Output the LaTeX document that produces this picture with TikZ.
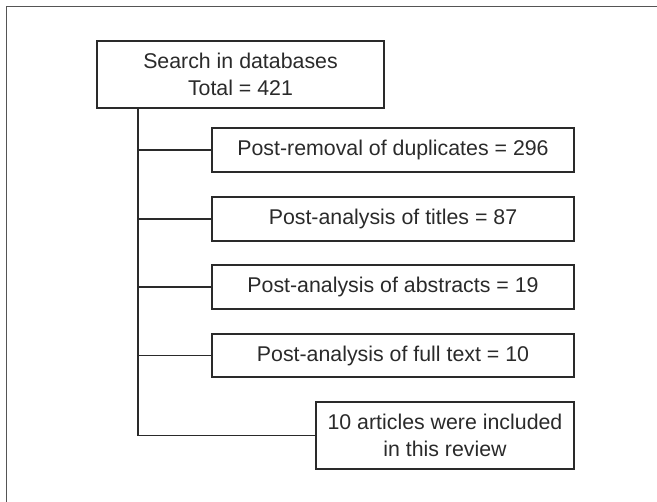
\documentclass[tikz,border=0pt]{standalone}
\usepackage{fontspec}
\setmainfont{Liberation Sans}
\usepackage{xcolor}
\usetikzlibrary{positioning}

\definecolor{inkgray}{HTML}{2A2A2A}

\begin{document}
\begin{tikzpicture}[
x=0.75pt, y=-0.75pt,
box/.style={
    draw=inkgray,
    line width=0.8pt,
    align=center,
    inner sep=0pt,
    text=inkgray,
    font=\fontsize{16}{20}\selectfont
},
link/.style={draw=inkgray, line width=0.8pt}
]
\useasboundingbox (0,0) rectangle (657,502);

% outer frame (only top and left show)
\draw[inkgray!80, line width=1.2pt] (6.5,502) -- (6.5,6.5) -- (657,6.5);

\node[box, minimum width=287*0.75pt, minimum height=67*0.75pt] (search) at (240.5,74.5) {
Search in databases\\
Total = 421
};

\node[box, minimum width=362*0.75pt, minimum height=44*0.75pt] (dup) at (393,150) {Post-removal of duplicates = 296};
\node[box, minimum width=362*0.75pt, minimum height=44*0.75pt] (titles) at (393,219) {Post-analysis of titles = 87};
\node[box, minimum width=362*0.75pt, minimum height=44*0.75pt] (abstracts) at (393,287) {Post-analysis of abstracts = 19};
\node[box, minimum width=362*0.75pt, minimum height=43*0.75pt] (fulltext) at (393,355.5) {Post-analysis of full text = 10};

\node[box, minimum width=258*0.75pt, minimum height=67*0.75pt] (included) at (445,435.5) {
10 articles were included\\
in this review
};

\coordinate (trunk) at (138,0);

\draw[link] (search.south -| trunk) |- (included.west);
\foreach \n in {dup,titles,abstracts,fulltext}
    \draw[link] (trunk |- \n.west) -- (\n.west);

\end{tikzpicture}
\end{document}
